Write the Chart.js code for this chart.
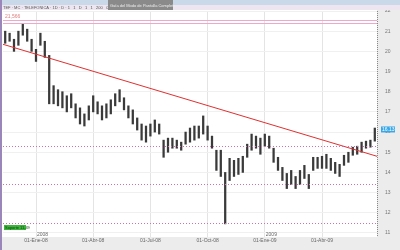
<!DOCTYPE html>
<html>
<head>
<meta charset="utf-8">
<script src="https://cdn.jsdelivr.net/npm/chart.js@4/dist/chart.umd.min.js"></script>
<style>
  html, body { margin: 0; padding: 0; background: #fff; }
  #wrap { width: 400px; height: 250px; position: relative; }
</style>
</head>
<body>
<div id="wrap"><canvas id="chart-tef" width="400" height="250"></canvas></div>
<script>
// weekly ranges, Nov-07 .. Jun-09
var weekLows = [
  20.4, 20.5, 20.0, 20.3, 20.8, 20.5, 20.0, 19.5, 20.3, 19.7,
  17.4, 17.4, 17.3, 17.2, 17.0, 17.2, 16.7, 16.4, 16.3, 16.6,
  17.0, 16.9, 16.6, 16.7, 16.9, 17.3, 17.5, 17.1, 16.7, 16.4,
  16.1, 15.6, 15.5, 15.8, 16.0, 15.9, 14.75, 15.0, 15.2, 15.2,
  15.1, 15.4, 15.5, 15.6, 15.7, 15.9, 15.6, 15.2, 14.1, 13.8,
  11.45, 13.6, 13.8, 13.9, 14.0, 14.75, 15.1, 15.2, 14.9, 15.3,
  15.2, 14.5, 14.1, 13.6, 13.2, 13.4, 13.2, 13.4, 13.7, 13.2,
  14.1, 14.2, 14.2, 14.2, 14.1, 13.95, 13.8, 14.35, 14.5, 14.85,
  14.9, 15.0, 15.2, 15.25, 15.55
];
var weekHighs = [
  21.0, 20.9, 20.6, 21.0, 21.35, 21.1, 20.6, 20.1, 20.9, 20.5,
  19.8, 18.3, 18.1, 18.0, 17.8, 17.9, 17.4, 17.2, 16.9, 17.3,
  17.8, 17.5, 17.3, 17.4, 17.6, 17.9, 18.1, 17.7, 17.3, 17.1,
  16.7, 16.4, 16.3, 16.4, 16.6, 16.4, 15.6, 15.7, 15.7, 15.6,
  15.5, 16.0, 16.2, 16.3, 16.3, 16.8, 16.3, 15.8, 15.1, 15.1,
  14.0, 14.7, 14.6, 14.7, 14.8, 15.4, 15.9, 15.8, 15.7, 15.9,
  15.8, 15.2, 14.75, 14.25, 13.95, 14.1, 13.8, 14.1, 14.35, 13.9,
  14.75, 14.75, 14.8, 14.9, 14.7, 14.5, 14.4, 14.85, 15.0, 15.25,
  15.3, 15.5, 15.55, 15.6, 16.2
];
var trendX = [-0.5, 84.5];
var trendY = [20.35, 14.8];
var tickWeeks = [7, 20, 33, 46, 59, 72];
var tickLabels = ['01-Ene-08', '01-Abr-08', '01-Jul-08', '01-Oct-08', '01-Ene-09', '01-Abr-09'];
var yearWeeks = [7, 59];
var yearLabels = ['2008', '2009'];
var resistLevels = [21.566, 21.42];
var supportLevels = [15.29, 13.42, 11.49];
var lastPrice = 16.13;

var bars = weekLows.map(function(lo, i) { return {x: i, y: [lo, weekHighs[i]]}; });
var trend = trendX.map(function(x, i) { return {x: x, y: trendY[i]}; });

var FONT = '"Liberation Sans", Arial, sans-serif';

var decor = {
  id: 'decor',
  beforeDraw: function(chart) {
    var c = chart.ctx, a = chart.chartArea;
    c.save();
    c.fillStyle = '#ececec';
    c.fillRect(a.right, 0, 400 - a.right, 250);
    c.fillRect(0, a.bottom, 400, 250 - a.bottom);
    c.restore();
  },
  afterDatasetsDraw: function(chart) {
    var c = chart.ctx, a = chart.chartArea, ys = chart.scales.y, xs = chart.scales.x;
    c.save();
    // pink levels
    c.strokeStyle = '#f0a8c8';
    c.lineWidth = 1;
    resistLevels.forEach(function(v) {
      var y = Math.round(ys.getPixelForValue(v)) + 0.5;
      c.beginPath(); c.moveTo(a.left, y); c.lineTo(a.right, y); c.stroke();
    });
    c.setLineDash([1, 2]);
    c.strokeStyle = '#d070b0';
    supportLevels.forEach(function(v) {
      var y = Math.round(ys.getPixelForValue(v)) + 0.5;
      c.beginPath(); c.moveTo(a.left, y); c.lineTo(a.right, y); c.stroke();
    });
    c.setLineDash([]);
    c.font = '5px ' + FONT;
    c.fillStyle = '#e08080';
    c.textBaseline = 'bottom';
    c.fillText(resistLevels[0].toFixed(3).replace('.', ','), a.left + 2, ys.getPixelForValue(resistLevels[0]) - 1);
    // year labels
    c.fillStyle = '#666';
    yearWeeks.forEach(function(w, i) {
      c.fillText(yearLabels[i], xs.getPixelForValue(w) + 1, a.bottom);
    });
    // support tag
    c.fillStyle = '#3cb43c';
    c.fillRect(a.left + 1, 225, 22, 5);
    c.fillStyle = '#104010';
    c.font = '4px ' + FONT;
    c.textBaseline = 'middle';
    c.fillText('Soporte 11,49', a.left + 2, 227.5);
    // axis line (dotted)
    c.strokeStyle = '#888';
    c.setLineDash([1, 1]);
    c.beginPath(); c.moveTo(a.right + 0.5, a.top); c.lineTo(a.right + 0.5, a.bottom); c.stroke();
    c.setLineDash([]);
    // last price tag
    var py = ys.getPixelForValue(lastPrice);
    c.fillStyle = '#3aa8e8';
    c.fillRect(a.right + 4, py - 3, 14, 6);
    c.fillStyle = '#fff';
    c.font = '5px ' + FONT;
    c.fillText(lastPrice.toFixed(2), a.right + 5, py);
    // window chrome
    c.fillStyle = '#c9d9ea';
    c.fillRect(0, 0, 400, 5);
    c.fillStyle = '#ede6f0';
    c.fillRect(0, 5, 400, 5);
    c.fillStyle = '#555';
    c.font = '4px ' + FONT;
    c.fillText('TEF · MC · TELEFONICA · 1D · D · 1   1   D   1   1   200   0 · 0', 3, 7.5);
    c.fillStyle = '#8a8a8a';
    c.fillRect(108, 0, 65, 10);
    c.fillStyle = '#eee';
    c.fillText('Guía del Modo de Pantalla Completa', 110, 5.5);
    c.fillStyle = '#9a86b8';
    c.fillRect(0, 0, 2, 250);
    c.restore();
  }
};

var ctx = document.getElementById('chart-tef');
var tefChart = new Chart(ctx, {
  type: 'bar',
  data: {
    datasets: [
      {
        type: 'line',
        data: trend,
        borderColor: '#e03030',
        borderWidth: 1,
        pointRadius: 0,
        order: 0
      },
      {
        data: bars,
        backgroundColor: '#3a3a3a',
        borderWidth: 0,
        barThickness: 1.6,
        order: 1
      }
    ]
  },
  options: {
    responsive: false,
    animation: false,
    events: [],
    layout: { padding: { top: 10, left: 3, right: 0, bottom: 0 } },
    plugins: { legend: { display: false }, tooltip: { enabled: false } },
    scales: {
      x: {
        type: 'linear',
        offset: false,
        min: -0.5,
        max: 84.5,
        afterBuildTicks: function(scale) {
          scale.ticks = tickWeeks.map(function(w) { return {value: w}; });
        },
        afterFit: function(scale) { scale.height = 13; },
        ticks: {
          autoSkip: false,
          maxRotation: 0,
          padding: 1,
          color: '#666',
          font: { size: 5, family: FONT },
          callback: function(v) { return tickLabels[tickWeeks.indexOf(v)]; }
        },
        grid: { color: '#e4e4e4', drawTicks: false, offset: false },
        border: { display: false }
      },
      y: {
        position: 'right',
        min: 10.8,
        max: 22,
        afterBuildTicks: function(scale) {
          var t = [];
          for (var v = 11; v <= 22; v++) t.push({value: v});
          scale.ticks = t;
        },
        afterFit: function(scale) { scale.width = 23; },
        ticks: {
          padding: 8,
          color: '#777',
          font: { size: 5, family: FONT }
        },
        grid: { color: '#f0f0f0', drawTicks: false },
        border: { display: false }
      }
    }
  },
  plugins: [decor]
});
</script>
</body>
</html>
